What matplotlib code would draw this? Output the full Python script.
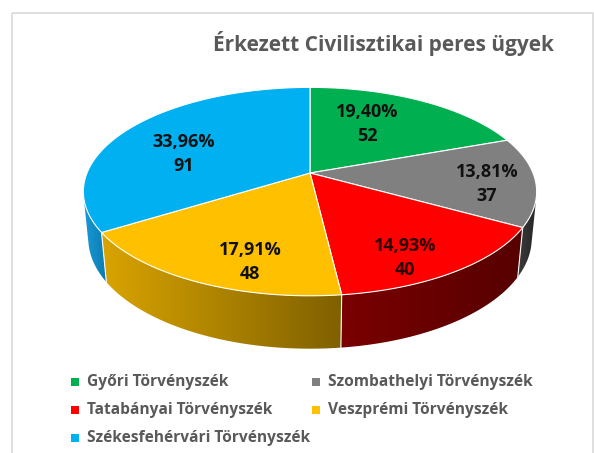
import numpy as np
import matplotlib.pyplot as plt
from matplotlib.patches import Polygon, Rectangle
from matplotlib.colors import LinearSegmentedColormap

plt.rcParams['font.family'] = ['Open Sans', 'DejaVu Sans']

title = 'Érkezett Civilisztikai peres ügyek'
courts = ['Győri Törvényszék', 'Szombathelyi Törvényszék', 'Tatabányai Törvényszék',
          'Veszprémi Törvényszék', 'Székesfehérvári Törvényszék']
cases = [52, 37, 40, 48, 91]
top_colors = ['#00b050', '#808080', '#ff0000', '#ffc000', '#00b0f0']
side_colors = [('#008a3e', '#005a28'), ('#3a3a3a', '#262626'), ('#7a0000', '#560000'),
               ('#d9a400', '#7f6000'), ('#1a9ad6', '#0a7ab0')]
label_colors = ['#111111', '#111111', '#2a0000', '#111111', '#111111']

# 3d view: apex on screen, scale, tilt, radius/camera distance, height/camera distance
cx, cy = 310, 173
scale = 1115
elev = np.radians(26.9)
k = 0.2
h = 0.0475
label_pos = [(367, 124), (487, 184), (405, 258), (250, 262), (184, 154)]

fig = plt.figure(figsize=(5.94, 4.53), dpi=100)
ax = fig.add_axes([0, 0, 1, 1])
ax.set_xlim(0, 594)
ax.set_ylim(453, 0)
ax.axis('off')

# chart border
ax.add_patch(Rectangle((12, 13), 581, 460, fill=False, edgecolor='#d9d9d9', lw=1.2))


def proj(theta, y=0.0):
    t = np.radians(theta)
    X, Z = k * np.sin(t), k * np.cos(t)
    yc = Z * np.sin(elev) + y * np.cos(elev)
    zc = 1 + Z * np.cos(elev) - y * np.sin(elev)
    return cx + scale * X / zc, cy - scale * yc / zc


total = sum(cases)
fracs = np.array(cases) / total
edges = np.concatenate([[0], np.cumsum(fracs) * 360])

# visible part of the side wall
lim = np.degrees(np.arccos(-k / np.cos(elev)))
vis0, vis1 = lim, 360 - lim

for i in range(len(cases)):
    t0, t1 = max(edges[i], vis0), min(edges[i + 1], vis1)
    if t1 <= t0:
        continue
    th = np.linspace(t0, t1, 80)
    xs, ys = proj(th)
    xb, yb = proj(th, -h)
    pts = np.vstack([np.column_stack([xs, ys]),
                     np.column_stack([xb[::-1], yb[::-1]])])
    poly = Polygon(pts, closed=True, facecolor='none', edgecolor='none')
    ax.add_patch(poly)
    cmap = LinearSegmentedColormap.from_list('s', side_colors[i])
    grad = np.linspace(0, 1, 256).reshape(1, -1)
    im = ax.imshow(grad, cmap=cmap, aspect='auto',
                   extent=[pts[:, 0].min(), pts[:, 0].max(), pts[:, 1].max(), pts[:, 1].min()],
                   zorder=1)
    im.set_clip_path(poly)

# vertical seams
for t in edges:
    if vis0 < t < vis1:
        x0, y0 = proj(t)
        x1, y1 = proj(t, -h)
        ax.plot([x0, x1], [y0, y1], color='white', lw=0.8, zorder=2)

# top faces
for i in range(len(cases)):
    th = np.linspace(edges[i], edges[i + 1], 120)
    xs, ys = proj(th)
    pts = np.vstack([[cx, cy], np.column_stack([xs, ys])])
    ax.add_patch(Polygon(pts, closed=True, facecolor=top_colors[i],
                         edgecolor='white', lw=0.8, zorder=3))

for i, (x, y) in enumerate(label_pos):
    pct = f'{fracs[i] * 100:.2f}%'.replace('.', ',')
    ax.text(x, y, f'{pct}\n{cases[i]}', ha='center', va='center', fontsize=13,
            fontweight='bold', color=label_colors[i], linespacing=1.4, zorder=5)

ax.text(383, 43, title, ha='center', va='center', fontsize=15,
        fontweight='bold', color='#595959')

# legend
leg_pos = [(75, 382), (316, 382), (75, 410), (316, 410), (75, 438)]
for i, (x, y) in enumerate(leg_pos):
    ax.add_patch(Rectangle((x - 4, y - 4), 8, 8, facecolor=top_colors[i], edgecolor='none'))
    ax.text(x + 12, y, courts[i], ha='left', va='center', fontsize=11.2,
            fontweight='bold', color='#595959')

fig.savefig('out.png', dpi=100)
